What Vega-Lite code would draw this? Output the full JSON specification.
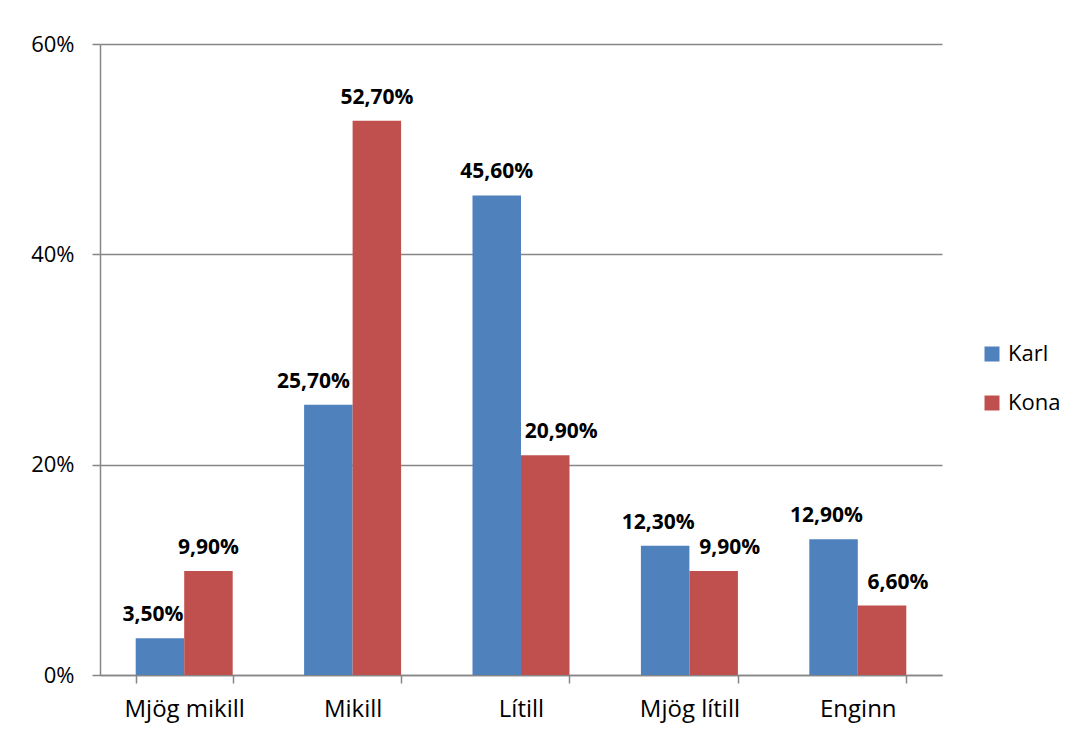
{
  "$schema": "https://vega.github.io/schema/vega-lite/v6.json",
  "autosize": {"type": "none"},
  "padding": {"left": 100, "top": 44, "right": 130, "bottom": 60},
  "width": 842,
  "height": 631,
  "background": "white",
  "config": {
    "locale": {"number": {"decimal": ",", "thousands": ".", "grouping": [3], "currency": ["", " kr"]}},
    "view": {"stroke": null},
    "font": "Open Sans",
    "text": {"fontWeight": "bold", "fontSize": 21, "baseline": "alphabetic", "dy": -17, "color": "#000000"}
  },
  "data": {
    "values": [
      {"cat": "Mjög mikill", "kyn": "Karl", "v": 0.035},
      {"cat": "Mjög mikill", "kyn": "Kona", "v": 0.099},
      {"cat": "Mikill", "kyn": "Karl", "v": 0.257},
      {"cat": "Mikill", "kyn": "Kona", "v": 0.527},
      {"cat": "Lítill", "kyn": "Karl", "v": 0.456},
      {"cat": "Lítill", "kyn": "Kona", "v": 0.209},
      {"cat": "Mjög lítill", "kyn": "Karl", "v": 0.123},
      {"cat": "Mjög lítill", "kyn": "Kona", "v": 0.099},
      {"cat": "Enginn", "kyn": "Karl", "v": 0.129},
      {"cat": "Enginn", "kyn": "Kona", "v": 0.066}
    ]
  },
  "encoding": {
    "x": {
      "field": "cat", "type": "nominal",
      "sort": ["Mjög mikill", "Mikill", "Lítill", "Mjög lítill", "Enginn"],
      "scale": {"paddingInner": 0.424, "paddingOuter": 0.212},
      "axis": {
        "title": null, "labelAngle": 0, "domainColor": "#868686", "tickColor": "#868686",
        "tickSize": 8, "tickBand": "extent", "labelFontSize": 24, "labelColor": "#000000",
        "labelPadding": 14, "labelBaseline": "top", "domainWidth": 1.5, "tickWidth": 1.5
      }
    },
    "xOffset": {"field": "kyn", "type": "nominal", "sort": ["Karl", "Kona"]},
    "y": {
      "field": "v", "type": "quantitative",
      "scale": {"domain": [0, 0.6], "nice": false},
      "axis": {
        "title": null, "values": [0, 0.2, 0.4, 0.6], "format": ".0%",
        "gridColor": "#868686", "gridWidth": 1.5, "domainColor": "#868686", "domainWidth": 1.5,
        "tickColor": "#868686", "tickSize": 8, "tickWidth": 1.5, "labelFontSize": 22,
        "labelColor": "#000000", "labelPadding": 18
      }
    },
    "text": {"field": "v", "type": "quantitative", "format": ".2%"}
  },
  "layer": [
    {
      "mark": {"type": "bar"},
      "encoding": {
        "text": null,
        "color": {
          "field": "kyn", "type": "nominal",
          "scale": {"domain": ["Karl", "Kona"], "range": ["#4F81BD", "#C0504D"]},
          "legend": {
            "title": null, "orient": "none", "legendX": 881, "legendY": 299,
            "symbolType": "square", "symbolSize": 225, "symbolStrokeWidth": 0,
            "labelFontSize": 22, "labelColor": "#000000", "rowPadding": 27, "labelOffset": 5
          }
        }
      }
    },
    {
      "transform": [{"filter": "(datum.kyn == 'Kona' && (datum.cat == 'Mjög mikill' || datum.cat == 'Mikill')) || (datum.kyn == 'Karl' && datum.cat == 'Lítill')"}],
      "mark": {"type": "text"}
    },
    {
      "transform": [{"filter": "datum.kyn == 'Karl' && (datum.cat == 'Mjög mikill' || datum.cat == 'Mjög lítill' || datum.cat == 'Enginn')"}],
      "mark": {"type": "text", "dx": -7}
    },
    {
      "transform": [{"filter": "datum.kyn == 'Karl' && datum.cat == 'Mikill'"}],
      "mark": {"type": "text", "dx": -15}
    },
    {
      "transform": [{"filter": "datum.kyn == 'Kona' && (datum.cat == 'Lítill' || datum.cat == 'Mjög lítill' || datum.cat == 'Enginn')"}],
      "mark": {"type": "text", "dx": 16}
    }
  ]
}
